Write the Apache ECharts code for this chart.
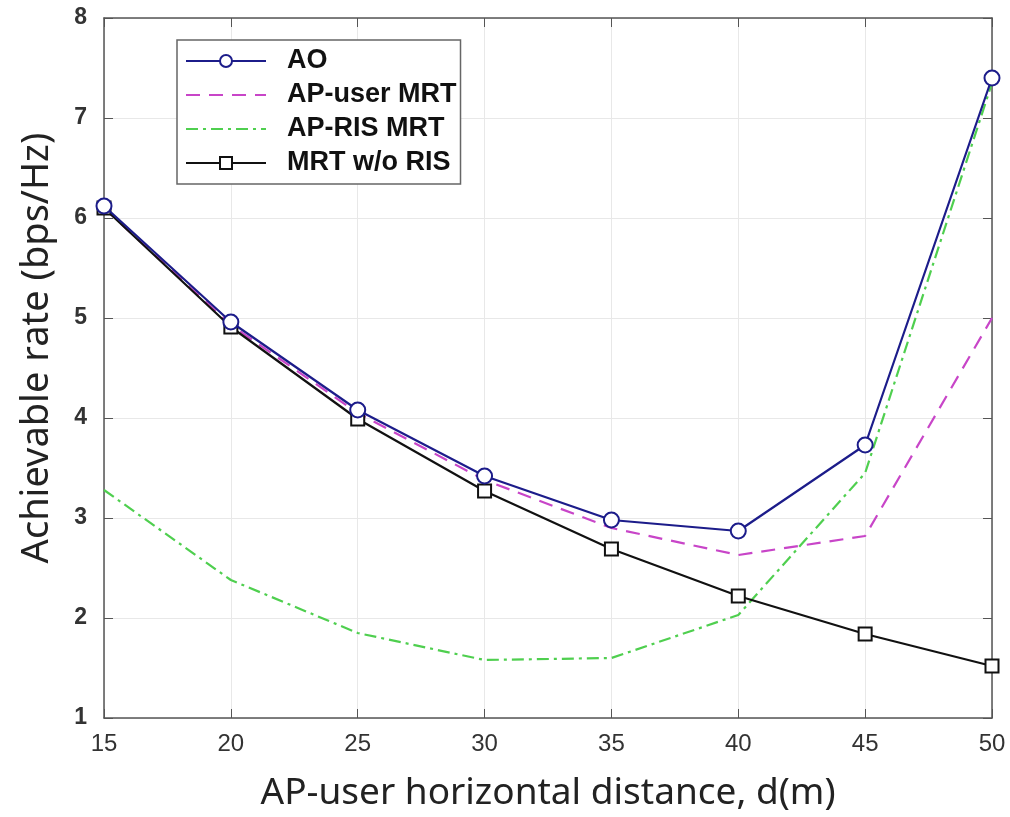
<!DOCTYPE html>
<html>
<head>
<meta charset="utf-8">
<script src="https://cdn.jsdelivr.net/npm/echarts@6/dist/echarts.min.js"></script>
<style>
  html, body { margin: 0; padding: 0; background: #fff; }
  #main { width: 1010px; height: 817px; }
</style>
</head>
<body>
<div id="main"></div>
<script type="text/javascript">
// distances (m)
var distance = [15, 20, 25, 30, 35, 40, 45, 50];
// achievable rate (bps/Hz)
var rateAO        = [6.12, 4.96, 4.08, 3.42, 2.98, 2.87, 3.73, 7.40];
var rateUserMRT   = [6.10, 4.93, 4.05, 3.38, 2.90, 2.63, 2.82, 5.00];
var rateRisMRT    = [3.28, 2.38, 1.85, 1.58, 1.60, 2.03, 3.45, 7.35];
var rateNoRIS     = [6.10, 4.91, 3.99, 3.27, 2.69, 2.22, 1.84, 1.52];
var legendNames   = ['AO', 'AP-user MRT', 'AP-RIS MRT', 'MRT w/o RIS'];

function pairs(ys) {
    return distance.map(function (x, i) { return [x, ys[i]]; });
}

var axisColor = '#555';
var chart = echarts.init(document.getElementById('main'));

var hiddenAxis = {
    axisLine: { show: true, lineStyle: { color: axisColor, width: 1.5 } },
    axisTick: { show: true, inside: true, length: 9, lineStyle: { color: axisColor } },
    axisLabel: { show: false },
    splitLine: { show: false }
};

chart.setOption({
    backgroundColor: '#fff',
    animation: false,
    grid: { left: 104, right: 18, top: 18, bottom: 98 },
    legend: {
        left: 177, top: 40,
        orient: 'vertical',
        backgroundColor: '#fff',
        borderColor: '#666',
        borderWidth: 1.5,
        borderRadius: 0,
        padding: [6, 4, 6, 8],
        itemWidth: 80,
        itemHeight: 15,
        itemGap: 4,
        textStyle: {
            fontFamily: 'Liberation Sans', fontWeight: 'bold', fontSize: 27,
            lineHeight: 30, color: '#111', padding: [0, 0, 0, 16]
        },
        data: legendNames.map(function (n) {
            if (n === 'AP-user MRT' || n === 'AP-RIS MRT') {
                return { name: n, itemStyle: { opacity: 0 } };
            }
            return { name: n };
        })
    },
    xAxis: [{
        type: 'value', min: 15, max: 50, interval: 5,
        name: 'AP-user horizontal distance, d(m)',
        nameLocation: 'middle', nameGap: 57,
        nameTextStyle: { fontFamily: 'Noto Sans', fontSize: 37, color: '#222' },
        axisLine: { lineStyle: { color: axisColor, width: 1.5 } },
        axisTick: { inside: true, length: 9, lineStyle: { color: axisColor } },
        axisLabel: { fontFamily: 'Liberation Sans', fontSize: 24, color: '#333', margin: 14 },
        splitLine: { show: true, lineStyle: { color: '#e8e8e8', width: 1 } }
    }, Object.assign({ position: 'top', type: 'value', min: 15, max: 50, interval: 5 }, hiddenAxis)],
    yAxis: [{
        type: 'value', min: 1, max: 8, interval: 1,
        name: 'Achievable rate (bps/Hz)',
        nameLocation: 'middle', nameGap: 48,
        nameTextStyle: { fontFamily: 'Noto Sans', fontSize: 38, color: '#222', padding: [0, 0, 0, 40] },
        axisLine: { show: true, lineStyle: { color: axisColor, width: 1.5 } },
        axisTick: { show: true, inside: true, length: 9, lineStyle: { color: axisColor } },
        axisLabel: { fontFamily: 'Liberation Sans', fontWeight: 'bold', fontSize: 23, color: '#333', margin: 17 },
        splitLine: { show: true, lineStyle: { color: '#e8e8e8', width: 1 } }
    }, Object.assign({ position: 'right', type: 'value', min: 1, max: 8, interval: 1 }, hiddenAxis)],
    series: [{
        name: 'AO', type: 'line', data: pairs(rateAO),
        symbol: 'circle', symbolSize: 15,
        itemStyle: { color: '#fff', borderColor: '#1c1c8a', borderWidth: 2 },
        lineStyle: { color: '#1c1c8a', width: 2.2 },
        z: 5
    }, {
        name: 'AP-user MRT', type: 'line', data: pairs(rateUserMRT),
        symbol: 'none',
        itemStyle: { color: '#c845c8' },
        lineStyle: { color: '#c845c8', width: 2.2, type: [14, 9] },
        z: 3
    }, {
        name: 'AP-RIS MRT', type: 'line', data: pairs(rateRisMRT),
        symbol: 'none',
        itemStyle: { color: '#4fcf4f' },
        lineStyle: { color: '#4fcf4f', width: 2.2, type: [12, 5, 3, 5] },
        z: 3
    }, {
        name: 'MRT w/o RIS', type: 'line', data: pairs(rateNoRIS),
        symbol: 'rect', symbolSize: 13,
        itemStyle: { color: '#fff', borderColor: '#111', borderWidth: 2 },
        lineStyle: { color: '#111', width: 2.2 },
        z: 4
    }]
});
</script>
</body>
</html>
